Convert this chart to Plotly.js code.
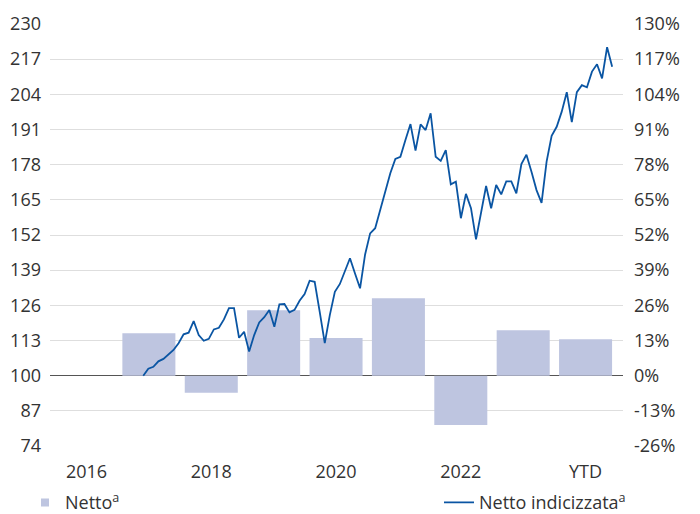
<!DOCTYPE html>
<html>
<head>
<meta charset="utf-8">
<script src="https://cdn.plot.ly/plotly-3.0.1.min.js"></script>
<style>html,body{margin:0;padding:0;background:#fff;}#chart{width:700px;height:514px;}</style>
</head>
<body>
<div id="chart"></div>
<script>
// ---- data ----
const categories = ['2016','2017','2018','2019','2020','2021','2022','2023','YTD'];
const nettoPct = [null, 15.7, -6.3, 24.2, 13.9, 28.6, -18.2, 16.8, 13.5];
const nettoIndex = [
  100.0, 102.6, 103.3, 105.3, 106.2, 107.8, 109.5, 112.0, 115.3, 115.9,
  120.2, 115.0, 112.9, 113.6, 117.1, 117.7, 120.8, 125.0, 125.0, 114.0,
  116.2, 108.9, 115.0, 119.7, 121.6, 124.3, 118.1, 126.4, 126.5, 123.4,
  124.3, 127.7, 130.2, 135.1, 134.7, 123.6, 112.0, 122.4, 131.0, 133.9,
  138.4, 143.4, 137.8, 132.3, 144.8, 152.6, 154.5, 161.2, 167.4, 174.8,
  180.1, 180.9, 187.1, 193.0, 183.2, 192.9, 190.8, 197.0, 180.9, 179.4,
  183.4, 170.7, 171.7, 158.2, 167.2, 161.9, 150.4, 160.0, 170.1, 161.9,
  170.5, 167.0, 171.8, 171.8, 167.4, 178.2, 181.7, 175.4, 168.6, 163.9,
  179.1, 188.7, 192.0, 197.6, 204.8, 193.7, 204.8, 207.4, 206.6, 212.4,
  215.1, 209.9, 221.4, 214.2
];
// time positions of the indexed series, in category units (start of series .. last observation)
const seriesStartPos = 0.91;
const seriesEndPos = 8.426;
const indexTicks = [74, 87, 100, 113, 126, 139, 152, 165, 178, 191, 204, 217, 230];
const pctTicks = [-26, -13, 0, 13, 26, 39, 52, 65, 78, 91, 104, 117, 130];
const pctTickText = pctTicks.map(v => v + '%');

const step = (seriesEndPos - seriesStartPos) / (nettoIndex.length - 1);
const lineX = nettoIndex.map((_, i) => seriesStartPos + i * step);

const barColor = '#bec5e0';
const lineColor = '#0a55a3';
const textColor = '#333333';
const font = {family: '"Open Sans", "Noto Sans", sans-serif', size: 18, color: textColor};
const xRange = [-0.585, 8.6];

const traces = [
  {
    type: 'bar', name: 'Netto<sup>a</sup>', showlegend: false,
    x: categories, y: nettoPct,
    xaxis: 'x', yaxis: 'y',
    marker: {color: barColor, line: {width: 0}},
    hoverinfo: 'x+y'
  },
  {
    // legend key for the bars (small square, as in the reference)
    type: 'scatter', mode: 'markers', name: 'Netto<sup>a</sup>',
    x: [null], y: [null], xaxis: 'x', yaxis: 'y', legend: 'legend',
    marker: {symbol: 'square', size: 8, color: barColor}
  },
  {
    type: 'scatter', mode: 'lines', name: 'Netto indicizzata<sup>a</sup>',
    x: lineX, y: nettoIndex,
    xaxis: 'x2', yaxis: 'y2', legend: 'legend2',
    line: {color: lineColor, width: 1.8}
  }
];

const legendBase = {
  orientation: 'h', xref: 'container', yref: 'container',
  y: 0.022, xanchor: 'left', yanchor: 'middle',
  font: font, bgcolor: 'rgba(0,0,0,0)'
};

const layout = {
  width: 700, height: 514,
  margin: {l: 50, r: 77, t: 24, b: 68},
  paper_bgcolor: '#fff', plot_bgcolor: '#fff',
  font: font,
  showlegend: true,
  bargap: 0.15,
  xaxis: {
    type: 'category', range: xRange, dtick: 2, tick0: 0,
    showgrid: false, zeroline: false, showline: false, ticks: '',
    ticklabelstandoff: 13, tickfont: font, fixedrange: true
  },
  xaxis2: {
    type: 'linear', range: xRange, overlaying: 'x', anchor: 'y2',
    visible: false, fixedrange: true
  },
  yaxis: {
    range: [-26, 130], tickvals: pctTicks, ticktext: pctTickText, side: 'right',
    showgrid: true, gridcolor: '#dedede', gridwidth: 1,
    zeroline: true, zerolinecolor: '#555555', zerolinewidth: 1.6,
    showline: false, ticks: '', ticklabelstandoff: 10, tickfont: font, fixedrange: true
  },
  yaxis2: {
    range: [74, 230], tickvals: indexTicks, side: 'left', overlaying: 'y', anchor: 'x2',
    showgrid: false, zeroline: false, showline: false, ticks: '',
    ticklabelstandoff: 8, tickfont: font, fixedrange: true
  },
  legend: Object.assign({}, legendBase, {x: 25 / 700}),
  legend2: Object.assign({}, legendBase, {x: 439 / 700})
};

Plotly.newPlot('chart', traces, layout, {displayModeBar: false, staticPlot: true});
</script>
</body>
</html>
